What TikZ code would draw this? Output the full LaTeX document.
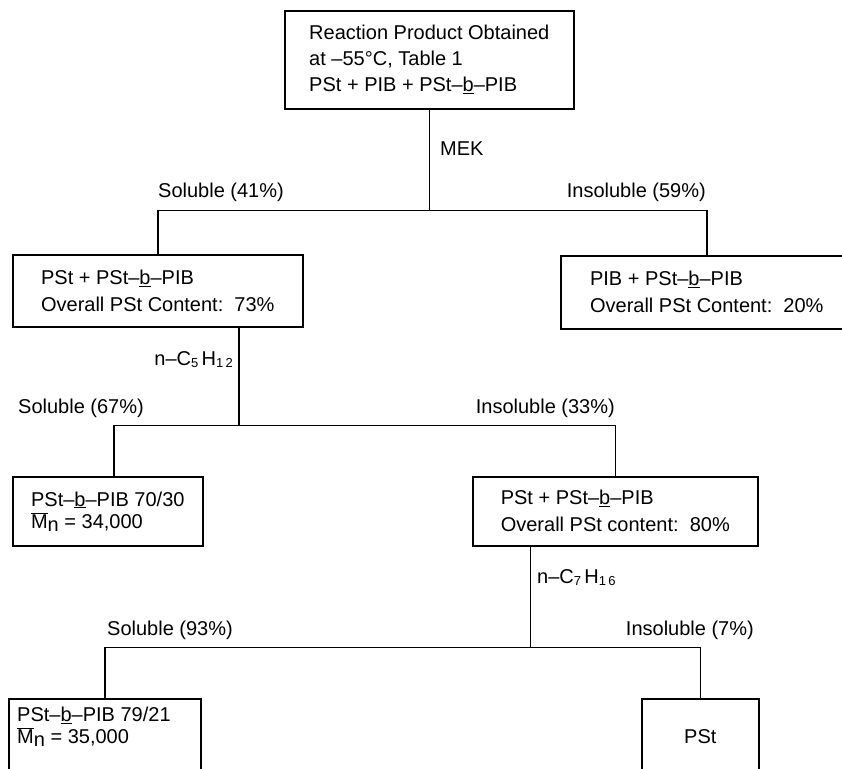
\documentclass[tikz,border=0pt]{standalone}
\usepackage{fontspec}
\setmainfont{Liberation Sans}
\usetikzlibrary{calc}
\newcommand{\lowsub}[1]{\raisebox{-2.5pt}{\fontsize{13}{13}\selectfont #1}}
\newcommand{\mnbar}{\ensuremath{\overline{\mbox{M}}}\raisebox{-3pt}{n}}
\begin{document}
\begin{tikzpicture}[x=1pt,y=1pt,
  box/.style={draw, line width=1.6pt, align=left, inner sep=0pt, anchor=north west,
              font=\fontsize{20}{27}\selectfont},
  tight/.style={font=\fontsize{20}{22}\selectfont},
  lbl/.style={inner sep=0pt, font=\fontsize{20}{24}\selectfont},
  conn/.style={line width=1.6pt}]
\useasboundingbox (0,0) rectangle (842,-768);
\clip (0,0) rectangle (842,-768);

% boxes
\node[box, minimum width=289pt, minimum height=98pt, font=\fontsize{20}{26}\selectfont] (A) at (284,-10)
  {Reaction Product Obtained\\at –55°C, Table 1\\PSt + PIB + PSt–\underline{b}–PIB};
\node[box, minimum width=290pt, minimum height=72pt] (B) at (12,-254)
  {PSt + PSt–\underline{b}–PIB\\Overall PSt Content:\ \ 73\%};
\node[box, minimum width=292pt, minimum height=73pt] (C) at (560,-255)
  {PIB + PSt–\underline{b}–PIB\\Overall PSt Content:\ \ 20\%};
\node[box, tight, minimum width=190pt, minimum height=69pt] (D) at (12,-476)
  {PSt–\underline{b}–PIB 70/30\\\mnbar\ = 34,000};
\node[box, minimum width=285pt, minimum height=69pt] (E) at (472,-476)
  {PSt + PSt–\underline{b}–PIB\\Overall PSt content:\ \ 80\%};
\node[box, minimum width=192pt, minimum height=90pt] (F) at (8,-698) {};
\node[inner sep=0pt, tight, align=left, anchor=north west] (Ft) at (17,-707)
  {PSt–\underline{b}–PIB 79/21\\\mnbar\ = 35,000};
\node[box, minimum width=117pt, minimum height=76pt] (G) at (641,-698) {PSt};

% connectors
\coordinate (j1) at ($(A.south)+(0,-101)$);
\draw[conn] (A.south) -- (j1);
\draw[conn] (B.north) -- (B.north |- j1) -- (C.north |- j1) -- (C.north);

\coordinate (b1) at ($(B.south west)!0.7793!(B.south east)$);
\coordinate (j2) at ($(b1)+(0,-98)$);
\coordinate (d1) at ($(D.north west)!0.532!(D.north east)$);
\draw[conn] (b1) -- (j2);
\draw[conn] (d1) -- (d1 |- j2) -- (E.north |- j2) -- (E.north);

\coordinate (e1) at ($(E.south west)!0.2035!(E.south east)$);
\coordinate (j3) at ($(e1)+(0,-101)$);
\draw[conn] (e1) -- (j3);
\draw[conn] (F.north) -- (F.north |- j3) -- (G.north |- j3) -- (G.north);

% labels
\node[lbl, anchor=base west] (mek) at (440,-155) {MEK};
\node[lbl, anchor=base west] (s41) at (158,-197) {Soluble (41\%)};
\node[lbl, anchor=base east] (i59) at (706,-197) {Insoluble (59\%)};
\node[lbl, anchor=base east] (pent) at (233,-365) {n–C\lowsub{5}\,H\lowsub{1\,2}};
\node[lbl, anchor=base west] (s67) at (18,-413) {Soluble (67\%)};
\node[lbl, anchor=base east] (i33) at (615,-413) {Insoluble (33\%)};
\node[lbl, anchor=base west] (hept) at (537,-583) {n–C\lowsub{7}\,H\lowsub{1\,6}};
\node[lbl, anchor=base west] (s93) at (107,-635) {Soluble (93\%)};
\node[lbl, anchor=base east] (i7) at (754,-635) {Insoluble (7\%)};
\end{tikzpicture}
\end{document}
